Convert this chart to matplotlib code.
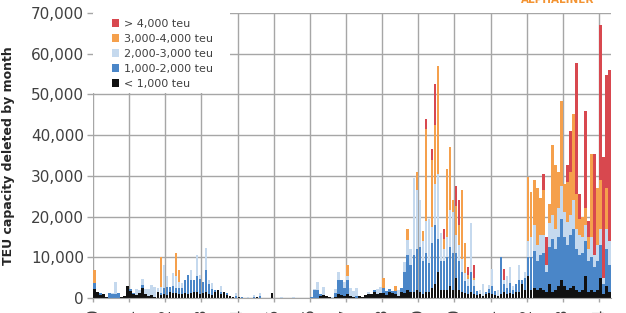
import numpy as np
import matplotlib
matplotlib.use("Agg")
import matplotlib.pyplot as plt
from matplotlib.patches import Patch, Rectangle
from matplotlib.ticker import FuncFormatter

# monthly demolition, Jan 2000 - Apr 2014, thousand TEU per size band
years = [str(y) for y in range(2000, 2015)]

lt1000 = [
    2.3, 1.5, 0.8, 1.0, 0.3, 0, 0, 0, 0, 0.2, 0.5, 3.0,            # 2000
    1.8, 1.0, 0.8, 1.2, 2.4, 1.0, 0.5, 0.7, 0.3, 1.5, 0.8, 1.0,    # 2001
    0.8, 1.5, 1.2, 1.2, 1.0, 1.0, 1.2, 1.0, 1.2, 1.5, 1.5, 1.0,    # 2002
    1.3, 1.5, 1.0, 0.8, 1.5, 2.0, 1.0, 1.5, 0.8, 0.5, 0.3, 0,      # 2003
    0.3, 0, 0, 0, 0, 0, 0.2, 0, 0, 0, 0, 1.2,                      # 2004
    0, 0, 0, 0, 0, 0, 0, 0, 0, 0, 0, 0,                            # 2005
    0, 0, 0, 0.5, 0.7, 0.6, 0.3, 0, 0.3, 1.0, 0.7, 0.5,            # 2006
    1.0, 0.5, 0.3, 0, 0.5, 0.3, 0.8, 1.0, 1.0, 1.5, 1.0, 1.3,      # 2007
    1.2, 0.8, 1.5, 1.2, 1.0, 0.6, 1.5, 1.2, 2.0, 1.5, 1.5, 2.0,    # 2008
    1.5, 1.0, 1.5, 1.5, 2.5, 3.5, 6.5, 2.0, 2.0, 2.0, 3.0, 2.0,    # 2009
    5.0, 2.0, 1.5, 1.2, 1.0, 1.5, 1.0, 0.8, 1.0, 0.5, 1.0, 1.2,    # 2010
    1.0, 0.8, 0.5, 1.0, 1.5, 1.0, 1.2, 1.0, 1.5, 1.5, 3.5, 2.0,    # 2011
    5.5, 2.0, 2.5, 2.0, 2.5, 2.0, 1.5, 3.5, 1.5, 2.0, 3.0, 4.5,    # 2012
    3.0, 2.0, 2.5, 3.0, 2.0, 1.5, 2.0, 5.5, 1.5, 2.0, 1.5, 2.0,    # 2013
    5.0, 1.0, 3.0, 1.5,                                            # 2014
]
b1000_2000 = [
    1.3, 0, 0.3, 0, 0, 1.1, 1.0, 1.0, 1.2, 0.1, 0, 0,
    0.5, 0.3, 0, 0, 0.8, 0, 0, 0, 0, 0, 0.5, 1.5,
    2.0, 1.3, 1.8, 1.3, 1.5, 1.5, 3.3, 4.7, 3.3, 3.0, 3.8, 3.7,
    2.7, 5.4, 2.5, 1.5, 0.5, 0, 0.5, 0, 0.4, 0, 0, 0.4,
    0, 0.2, 0, 0, 0, 0.3, 0, 0.4, 0, 0, 0, 0,
    0, 0, 0, 0, 0, 0, 0, 0, 0, 0, 0, 0,
    0.2, 2.0, 2.0, 0.5, 0, 0, 0, 0, 1.0, 3.5, 3.8, 2.0,
    3.5, 0, 0, 0.5, 0, 0, 0, 0, 0, 0.5, 0, 0,
    1.3, 0.8, 0.8, 0.6, 0.6, 0, 1.0, 5.1, 8.6, 6.5, 9.0, 10.0,
    11.0, 8.0, 9.5, 7.0, 11.0, 14.5, 8.0, 7.0, 7.0, 8.0, 9.5, 9.0,
    6.0, 7.0, 5.0, 3.0, 2.0, 5.0, 2.0, 1.0, 0, 0, 0.5, 1.0,
    2.0, 1.0, 0, 9.0, 2.0, 1.5, 2.5, 1.0, 2.0, 3.0, 1.0, 3.0,
    4.5, 8.0, 9.0, 7.0, 8.0, 9.0, 5.0, 9.0, 13.0, 10.0, 12.0, 15.0,
    12.0, 11.0, 13.0, 14.0, 10.0, 9.0, 9.0, 8.5, 7.5, 8.0, 6.0, 7.0,
    8.0, 2.5, 9.0, 6.5,
]
b2000_3000 = [
    0, 0, 0, 0, 0, 0, 0.2, 3.0, 0, 0, 0, 0,
    0, 0, 1.5, 0.8, 1.4, 1.2, 1.8, 2.5, 2.4, 1.0, 1.5, 5.6,
    2.5, 0, 3.2, 2.8, 1.5, 1.2, 0, 0, 2.4, 0, 5.3, 1.0,
    0, 5.3, 1.0, 1.4, 0, 0, 1.5, 0, 0, 0, 0, 0.8,
    0, 0, 0, 0.3, 0, 0.5, 0, 0.8, 0, 0, 0, 0,
    0, 0, 0.2, 0, 0, 0, 0.3, 0, 0, 0, 0, 0,
    0, 0.3, 2.0, 0, 2.0, 0, 0, 0.2, 0.8, 1.8, 0, 1.5,
    0.8, 2.0, 1.5, 2.0, 0, 0, 0, 0.5, 0, 0, 1.2, 1.5,
    0, 0, 0, 0, 0, 1.4, 0, 2.6, 3.6, 4.0, 19.0, 14.5,
    11.5, 5.0, 8.0, 11.0, 4.0, 10.0, 16.0, 7.0, 3.0, 5.0, 9.0, 10.0,
    4.5, 4.0, 3.0, 1.9, 1.7, 11.8, 1.5, 0, 1.0, 3.0, 0, 1.0,
    4.0, 0, 1.5, 0, 1.0, 2.8, 3.9, 1.0, 0, 3.7, 0, 1.5,
    4.0, 5.0, 6.5, 4.0, 5.0, 4.5, 1.5, 6.0, 6.0, 5.0, 7.0, 8.0,
    6.0, 5.6, 5.0, 7.0, 5.0, 5.0, 4.0, 4.0, 3.0, 5.0, 3.1, 4.0,
    4.0, 1.5, 5.0, 6.0,
]
b3000_4000 = [
    3.3, 0, 0, 0, 0, 0, 0, 0, 0, 0, 0, 0,
    0, 0, 0, 0, 0, 0, 0, 0, 0, 0, 7.2, 0,
    0, 0, 0, 5.7, 2.9, 0, 0, 0, 0, 0, 0, 0,
    0, 0, 0, 0, 0, 0, 0, 0, 0, 0, 0, 0,
    0, 0, 0, 0, 0, 0, 0, 0, 0, 0, 0, 0,
    0, 0, 0, 0, 0, 0, 0, 0, 0, 0, 0, 0,
    0, 0, 0, 0, 0, 0, 0, 0, 0, 0, 0, 0,
    2.8, 0, 0, 0, 0, 0, 0, 0, 0, 0, 0, 0,
    2.5, 0, 0, 0, 1.4, 0, 0, 0, 2.8, 0, 0, 4.5,
    0, 2.5, 22.5, 0, 16.5, 14.5, 26.5, 0, 2.5, 16.8, 15.5, 3.0,
    7.0, 5.0, 17.0, 7.3, 1.0, 0, 0.5, 0, 0, 0, 0, 0,
    0, 0, 0, 0, 0, 0, 0, 0, 0, 0, 0, 0,
    15.8, 11.0, 11.0, 14.0, 9.0, 11.0, 0, 4.5, 17.0, 15.6, 9.0, 21.0,
    7.0, 10.0, 10.5, 21.3, 8.6, 4.0, 5.0, 4.0, 3.0, 20.4, 0, 14.0,
    12.0, 0, 10.0, 0,
]
gt4000 = [
    0, 0, 0, 0, 0, 0, 0, 0, 0, 0, 0, 0,
    0, 0, 0, 0, 0, 0, 0, 0, 0, 0, 0, 0,
    0, 0, 0, 0, 0, 0, 0, 0, 0, 0, 0, 0,
    0, 0, 0, 0, 0, 0, 0, 0, 0, 0, 0, 0,
    0, 0, 0, 0, 0, 0, 0, 0, 0, 0, 0, 0,
    0, 0, 0, 0, 0, 0, 0, 0, 0, 0, 0, 0,
    0, 0, 0, 0, 0, 0, 0, 0, 0, 0, 0, 0,
    0, 0, 0, 0, 0, 0, 0, 0, 0, 0, 0, 0,
    0, 0, 0, 0, 0, 0, 0, 0, 0, 0, 0, 0,
    0, 0, 2.5, 0, 2.5, 10.0, 0, 0, 2.5, 0, 0, 0,
    5.1, 6.0, 0, 0, 2.0, 0, 3.0, 0, 0, 0, 0, 0,
    0, 0, 0, 0, 2.5, 0, 0, 0, 0, 0, 0, 0,
    0, 0, 0, 0, 0, 4.0, 7.0, 0, 0, 0, 0, 0,
    0, 4.0, 10.0, 0, 32.0, 6.1, 0, 24.0, 4.0, 0, 24.8, 0,
    38.0, 29.6, 27.7, 42.0,
]

series = [lt1000, b1000_2000, b2000_3000, b3000_4000, gt4000]
labels = ["< 1,000 teu", "1,000-2,000 teu", "2,000-3,000 teu",
          "3,000-4,000 teu", "> 4,000 teu"]
colors = ["#111111", "#4a86c8", "#c5d9ee", "#f5a04c", "#d8484f"]

fig = plt.figure(figsize=(6.26, 3.13), dpi=100)
ax = fig.add_axes([0.1486, 0.048, 0.8275, 0.9105])

x = np.arange(len(lt1000))
bottom = np.zeros(len(x))
for vals, col, lab in zip(series, colors, labels):
    v = np.array(vals) * 1000
    ax.bar(x + 0.08, v, width=0.84, bottom=bottom, align="edge",
           color=col, linewidth=0, zorder=1)
    bottom += v

ax.set_xlim(0, len(x))
ax.set_ylim(0, 70000)
ax.set_yticks(range(0, 70001, 10000))
ax.yaxis.set_major_formatter(FuncFormatter(lambda v, p: f"{int(v):,}"))
ax.set_xticks(range(0, 169, 12))
ax.set_xticklabels(years, rotation=90, va="top")

ax.set_axisbelow(True)
ax.grid(True, color="#a6a6a6", linewidth=1.0, zorder=0)
for s in ["top", "right", "left"]:
    ax.spines[s].set_visible(False)
ax.spines["bottom"].set_color("#a6a6a6")
ax.tick_params(axis="y", length=4, width=1, color="#a6a6a6", pad=2.5,
               labelsize=11, labelcolor="#404040")
ax.tick_params(axis="x", length=3, width=1, color="#a6a6a6", pad=3.5,
               labelsize=11, labelcolor="#404040")

ax.set_ylabel("TEU capacity deleted by month", fontsize=9, fontweight="bold",
              color="#262626")
ax.yaxis.set_label_coords(-0.151, 0.5)

# white block behind the legend hides the grid
ax.add_patch(Rectangle((0, 0.719), 0.2645, 0.281, transform=ax.transAxes,
                       facecolor="white", edgecolor="none", zorder=1.5))
handles = [Patch(facecolor=c, edgecolor="none") for c in colors[::-1]]
leg = ax.legend(handles, labels[::-1], loc="upper left",
                bbox_to_anchor=(0.036, 0.979), borderaxespad=0, borderpad=0,
                frameon=False, fontsize=8, handlelength=0.7, handleheight=0.7,
                handletextpad=0.4, labelspacing=0.44)
for t in leg.get_texts():
    t.set_color("#404040")
leg.set_zorder(5)

fig.text(0.891, 0.989, "ALPHALINER", ha="center", va="baseline",
         fontsize=7.5, fontweight="bold", color="#f39433")

fig.savefig("out.png", dpi=100)
